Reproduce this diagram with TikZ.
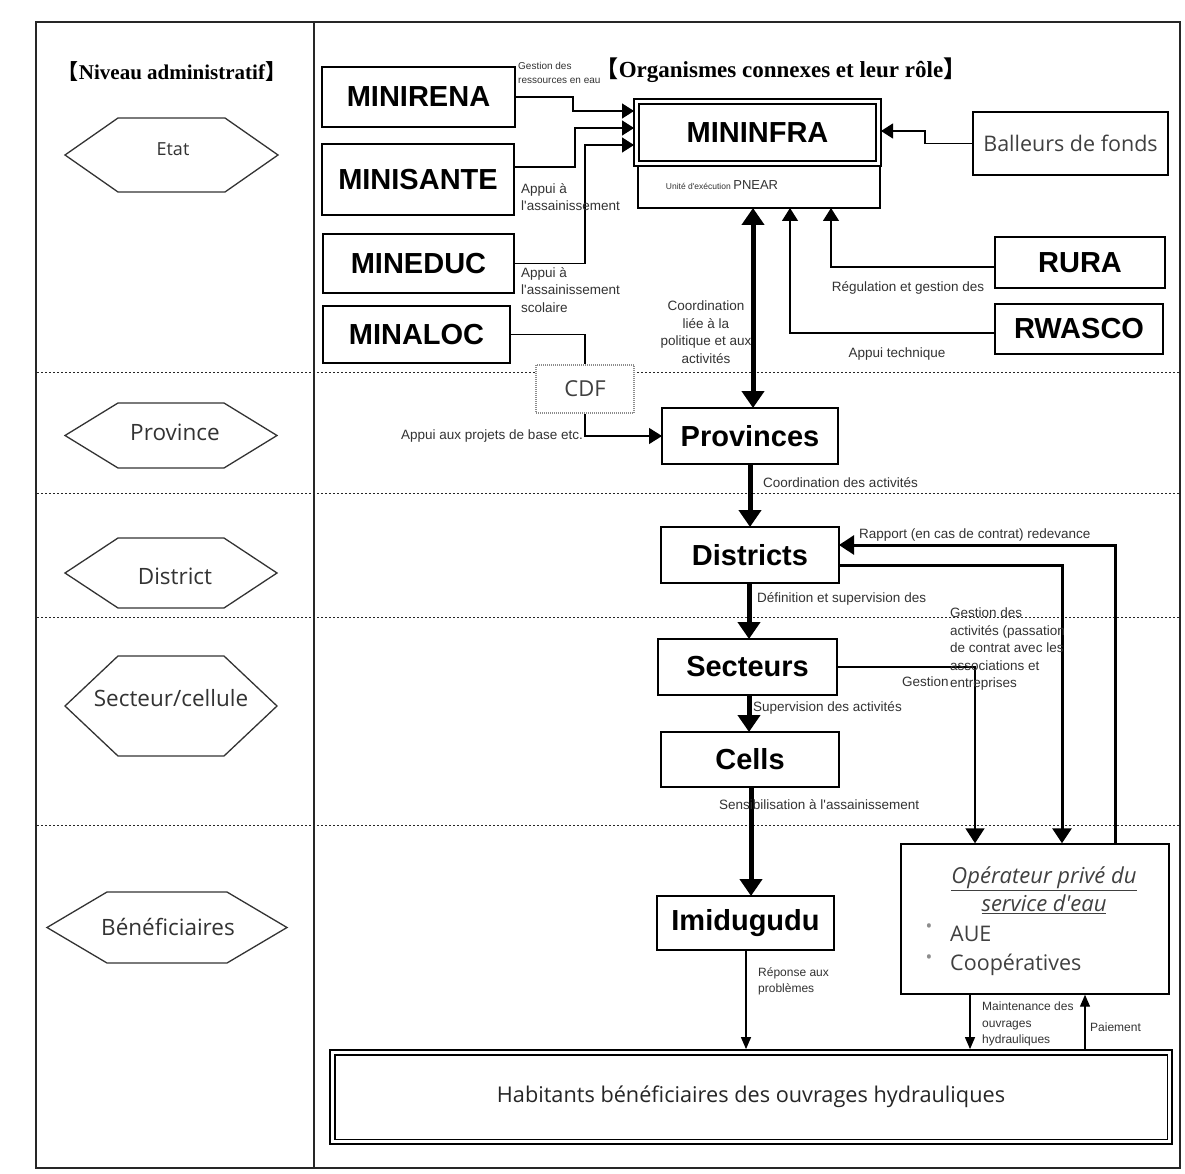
\documentclass[tikz,border=0pt]{standalone}
\usepackage{fontspec}
\setmainfont{Liberation Serif}
\setsansfont{Liberation Sans}
\newfontfamily\arial{Liberation Sans}
\newfontfamily\osans{Open Sans}
\newfontfamily\cjk{Noto Sans CJK JP}
\usetikzlibrary{arrows.meta,calc}
\newcommand\hexa[5]{\draw[hexline] ({#1-#3},#2) -- ({#1-#3+#5},{#2-#4}) -- ({#1+#3-#5},{#2-#4}) -- ({#1+#3},#2) -- ({#1+#3-#5},{#2+#4}) -- ({#1-#3+#5},{#2+#4}) -- cycle;}
\tikzset{
  frame/.style={draw=black!85, line width=1.5pt},
  dotline/.style={draw=black!85, line width=1pt, dash pattern=on 2pt off 2pt},
  hexline/.style={draw=black!80, line width=1.3pt, fill=white},
  hextext/.style={font=\osans\fontsize{22.5}{24}\selectfont, text=black!80, inner sep=0pt},
  hdr/.style={font=\rmfamily\bfseries\fontsize{21}{24}\selectfont, inner sep=0pt},
  box/.style={draw=black, fill=white, line width=1.6pt, inner sep=0pt, outer sep=0pt,
    font=\arial\bfseries\fontsize{29}{32}\selectfont},
  sbox/.style={draw=black, fill=white, line width=1.5pt, inner sep=0pt, outer sep=0pt,
    font=\osans\fontsize{21.5}{24}\selectfont, text=black!75},
  lbl/.style={font=\arial\fontsize{13.5}{17.5}\selectfont, text=black!80, inner sep=0pt, align=left},
  inarrow/.style={line width=1.3pt, -{Triangle[width=15pt,length=12pt]}},
  plainline/.style={line width=1.3pt},
  midarrow/.style={line width=1.3pt, -{Triangle[width=16pt,length=13pt]}},
  bigarrow/.style={line width=5pt, -{Triangle[width=22pt,length=17pt]}},
  dblarrow/.style={line width=5pt, {Triangle[width=22pt,length=17pt]}-{Triangle[width=22pt,length=17pt]}},
  medarrow/.style={line width=3pt, -{Triangle[width=19pt,length=15pt]}},
  secarrow/.style={line width=1.6pt, -{Triangle[width=19pt,length=15pt]}},
  smallarrow/.style={line width=1.2pt, -{Triangle[width=10pt,length=12pt]}},
}
\begin{document}
\begin{tikzpicture}[x=1pt,y=-1pt]
\useasboundingbox (0,0) rectangle (1185,1174);
\fill[white] (0,0) rectangle (1185,1174);

% frame and rows
\draw[frame] (36,22) rectangle (1180,1168);
\draw[frame] (314,22) -- (314,1168);
\foreach \yy in {372,493,617,825} \draw[dotline] (37,\yy) -- (1179,\yy);

% headers
\node[hdr] (hdrleft) at (172,72) {{\cjk 【}Niveau administratif{\cjk 】}};
\node[hdr, font=\rmfamily\bfseries\fontsize{23}{25}\selectfont] (hdrright) at (781,70) {{\cjk 【}Organismes connexes et leur rôle{\cjk 】}};

% left column hexagons
\hexa{171.5}{155}{106.5}{37}{53}
\node[hextext, font=\osans\fontsize{18}{20}\selectfont] (etat) at (173,149) {Etat};
\hexa{171}{435.5}{106}{32.5}{53}
\node[hextext] (province) at (175,432) {Province};
\hexa{171}{573}{106}{35}{53}
\node[hextext] (district) at (175,576) {District};
\hexa{171}{706}{106}{50}{53}
\node[hextext] (secteur) at (171,698) {Secteur/cellule};
\hexa{167}{927.5}{120}{35.5}{60}
\node[hextext] (benef) at (168,927) {Bénéficiaires};

% ministries
\node[box, minimum width=193pt, minimum height=60pt] (minirena) at (418.5,97) {MINIRENA};
\node[box, minimum width=192pt, minimum height=71pt] (minisante) at (418,179.5) {MINISANTE};
\node[box, minimum width=191pt, minimum height=59pt] (mineduc) at (418.5,263.5) {MINEDUC};
\node[box, minimum width=187pt, minimum height=57pt] (minaloc) at (416.5,334.5) {MINALOC};

\node[box, minimum width=247pt, minimum height=67pt] (mininfra) at (757.5,132.5) {MININFRA};
\draw[line width=1.6pt] ([shift={(5,5)}]mininfra.north west) rectangle ([shift={(-5,-5)}]mininfra.south east);
\node[box, minimum width=242pt, minimum height=42pt] (pnear) at (759,187) {};
\node[inner sep=0pt, text=black!80] (pneartext) at (722,185) {{\arial\fontsize{8.5}{10}\selectfont Unité d'exécution} {\arial\fontsize{13}{15}\selectfont PNEAR}};

\node[sbox, minimum width=195pt, minimum height=63pt] (balleurs) at (1070.5,143.5) {Balleurs de fonds};
\node[box, minimum width=170pt, minimum height=51pt] (rura) at (1080,262.5) {RURA};
\node[box, minimum width=168pt, minimum height=50pt] (rwasco) at (1079,329) {RWASCO};

\node[draw=black!45, fill=white, line width=1.5pt, dash pattern=on 1pt off 1pt, inner sep=0pt,
  minimum width=98pt, minimum height=48pt, font=\osans\fontsize{22}{24}\selectfont, text=black!75] (cdf) at (585,389) {CDF};

\node[box, minimum width=176pt, minimum height=56pt] (provinces) at (750,436) {Provinces};
\node[box, minimum width=178pt, minimum height=56pt] (districts) at (750,555) {Districts};
\node[box, minimum width=179pt, minimum height=56pt] (secteurs) at (747.5,667) {Secteurs};
\node[box, minimum width=178pt, minimum height=55pt] (cells) at (750,759.5) {Cells};
\node[box, minimum width=177pt, minimum height=54pt] (imidugudu) at (745.5,923) {Imidugudu};

\node[draw=black, fill=white, line width=1.4pt, inner sep=0pt, minimum width=268pt, minimum height=150pt] (operator) at (1035,919) {};
\node[inner sep=0pt, align=center, font=\osans\itshape\fontsize{22}{28}\selectfont, text=black!75] (optitle) at (1044,890)
  {\underline{Opérateur privé du}\\\underline{service d'eau}};
\node[inner sep=0pt, font=\osans\fontsize{18}{20}\selectfont, text=black!45] (bul1) at (929,928) {\textbullet};
\node[inner sep=0pt, font=\osans\fontsize{18}{20}\selectfont, text=black!45] (bul2) at (929,959) {\textbullet};
\node[inner sep=0pt, anchor=west, font=\osans\fontsize{21.5}{24}\selectfont, text=black!75] (aue) at (950,934) {AUE};
\node[inner sep=0pt, anchor=west, font=\osans\fontsize{21.5}{24}\selectfont, text=black!75] (coop) at (950,965) {Coopératives};

\node[draw=black, fill=white, line width=1.8pt, inner sep=0pt, minimum width=842pt, minimum height=94pt,
  font=\osans\fontsize{21.7}{24}\selectfont, text=black!85] (habitants) at (751,1097) {Habitants bénéficiaires des ouvrages hydrauliques};
\draw[line width=1.8pt] ([shift={(5.5,5.5)}]habitants.north west) rectangle ([shift={(-5.5,-5.5)}]habitants.south east);

% connectors
\draw[inarrow] (minirena.east) -- (573,97) |- (mininfra.west |- 0,111);
\draw[inarrow] (minisante.east |- 0,167) -- (575,167) |- (mininfra.west |- 0,128);
\draw[inarrow] (mineduc.east) -- (585,263.5) |- (mininfra.west |- 0,145);
\draw[inarrow] (balleurs.west) -- (925,143.5) |- (mininfra.east |- 0,131);
\draw[plainline] (minaloc.east) -| (cdf.north);
\draw[midarrow] (cdf.south) |- (provinces.west);
\draw[dblarrow] (pnear.south -| 753,0) -- (provinces.north -| 753,0);
\draw[midarrow] (rura.west |- 0,267) -| (pnear.south -| 831,0);
\draw[midarrow] (rwasco.west |- 0,333) -| (pnear.south -| 790,0);

\draw[bigarrow] (provinces.south -| 750,0) -- (districts.north -| 750,0);
\draw[bigarrow] (districts.south -| 749,0) -- (secteurs.north -| 749,0);
\draw[bigarrow] (secteurs.south -| 749,0) -- (cells.north -| 749,0);
\draw[bigarrow] (cells.south -| 751,0) -- (imidugudu.north -| 751,0);
\draw[smallarrow] (imidugudu.south -| 746,0) -- (habitants.north -| 746,0);

\draw[medarrow] (districts.east |- 0,565) -| (operator.north -| 1062,0);
\draw[medarrow] (operator.north -| 1115,0) |- (districts.east |- 0,545);
\draw[secarrow] (secteurs.east |- 0,667) -| (operator.north -| 975,0);
\draw[smallarrow] (operator.south -| 970,0) -- (habitants.north -| 970,0);
\draw[smallarrow] (habitants.north -| 1085,0) -- (operator.south -| 1085,0);

% labels
\node[lbl, anchor=west, font=\arial\fontsize{10}{14}\selectfont] (lgest) at (518,73) {Gestion des\\ressources en eau};
\node[lbl, anchor=west] (lappui1) at (521,197) {Appui à\\l'assainissement};
\node[lbl, anchor=west] (lappui2) at (521,290) {Appui à\\l'assainissement\\scolaire};
\node[lbl, align=center] (lcoord) at (706,332) {Coordination\\liée à la\\politique et aux\\activités};
\node[lbl] (lregul) at (908,288) {Régulation et gestion des};
\node[lbl] (ltech) at (897,354) {Appui technique};
\node[lbl, anchor=east] (lprojets) at (583,436) {Appui aux projets de base etc.};
\node[lbl, anchor=west] (lcoordact) at (763,483) {Coordination des activités};
\node[lbl, anchor=west] (lrapport) at (859,535) {Rapport (en cas de contrat) redevance};
\node[lbl, anchor=west] (ldef) at (757,599) {Définition et supervision des};
\node[lbl, anchor=north west] (lgestact) at (950,608) {Gestion des\\activités (passation\\de contrat avec les\\associations et\\entreprises};
\node[lbl, anchor=west] (lgestion) at (902,682) {Gestion};
\node[lbl, anchor=west] (lsuperv) at (753,708) {Supervision des activités};
\node[lbl, anchor=west] (lsensib) at (719,805) {Sensibilisation à l'assainissement};
\node[lbl, anchor=west, font=\arial\fontsize{12}{16}\selectfont] (lreponse) at (758,981) {Réponse aux\\problèmes};
\node[lbl, anchor=west, font=\arial\fontsize{12}{16.5}\selectfont] (lmaint) at (982,1024) {Maintenance des\\ouvrages\\hydrauliques};
\node[lbl, anchor=west, font=\arial\fontsize{12}{16}\selectfont] (lpaie) at (1090,1027) {Paiement};
\end{tikzpicture}
\end{document}
